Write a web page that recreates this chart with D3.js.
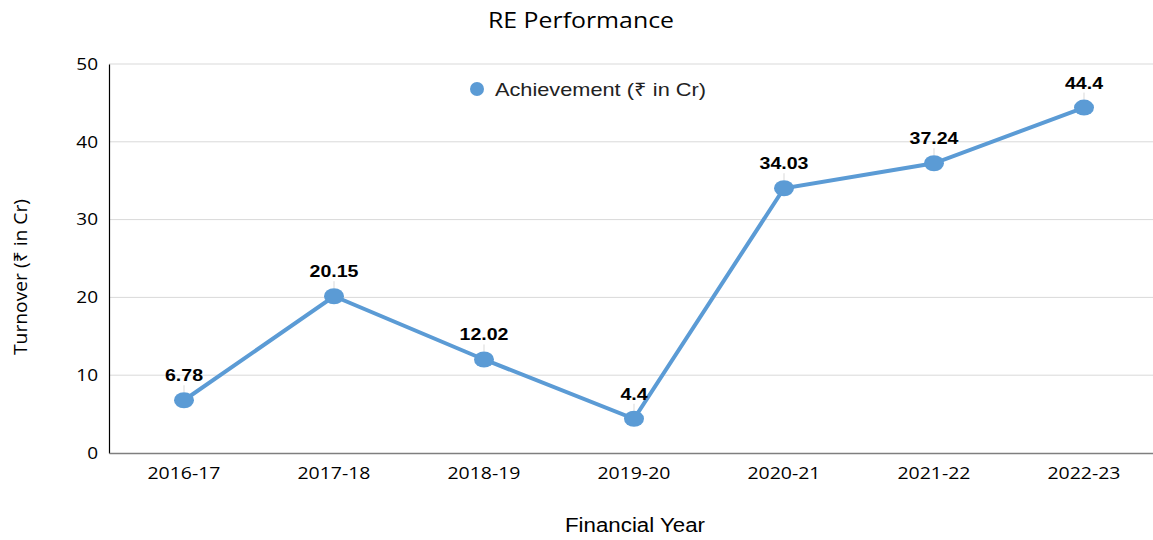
<!DOCTYPE html>
<html>
<head>
<meta charset="utf-8">
<script src="https://cdn.jsdelivr.net/npm/d3@7"></script>
<style>
  body { margin: 0; background: #fff; }
  svg { display: block; }
</style>
</head>
<body>
<div id="chart"></div>
<script>
const years = ['2016-17', '2017-18', '2018-19', '2019-20', '2020-21', '2021-22', '2022-23'];
const achievement = [6.78, 20.15, 12.02, 4.4, 34.03, 37.24, 44.4];
const yTicks = [0, 10, 20, 30, 40, 50];

const width = 1153, height = 540;
const color = '#5b9bd5';
const sideFont = '"Open Sans", "Noto Sans", sans-serif';
const armFont = '"Liberation Sans", Arial, sans-serif';

// the source picture is a bit wider than tall, so widen the text to match
function stretch(sel, k) {
    sel.each(function () {
        const w = this.getComputedTextLength();
        d3.select(this)
            .attr('textLength', w * k)
            .attr('lengthAdjust', 'spacingAndGlyphs');
    });
}

const svg = d3.select('#chart').append('svg')
    .attr('width', width)
    .attr('height', height);

const x = d3.scaleBand()
    .domain(years)
    .range([109, 1159]);

const y = d3.scaleLinear()
    .domain([0, 50])
    .range([453, 64]);

// gridlines
svg.append('g')
    .selectAll('line')
    .data(yTicks.filter(d => d > 0))
    .enter().append('line')
    .attr('x1', 109)
    .attr('x2', width)
    .attr('y1', d => y(d))
    .attr('y2', d => y(d))
    .attr('stroke', '#d9d9d9')
    .attr('stroke-width', 1);

// y axis
const yAxis = svg.append('g')
    .attr('transform', 'translate(109,0)')
    .call(d3.axisLeft(y).tickValues(yTicks).tickSize(0).tickPadding(11));
yAxis.select('.domain').attr('stroke', '#000').attr('stroke-width', 1.2);
yAxis.selectAll('text')
    .attr('font-family', sideFont)
    .attr('font-size', 16.5)
    .attr('fill', '#000')
    .call(stretch, 1.15);

// x axis
const xAxis = svg.append('g')
    .attr('transform', 'translate(0,453)')
    .call(d3.axisBottom(x).tickSize(0).tickPadding(14));
xAxis.select('.domain').attr('stroke', '#7f7f7f').attr('stroke-width', 1.5);
xAxis.selectAll('text')
    .attr('font-family', sideFont)
    .attr('font-size', 16.5)
    .attr('fill', '#000')
    .attr('textLength', 73)
    .attr('lengthAdjust', 'spacingAndGlyphs');

const cx = d => x(d) + x.bandwidth() / 2;

// line
const line = d3.line()
    .x((d, i) => cx(years[i]))
    .y(d => y(d));

svg.append('path')
    .datum(achievement)
    .attr('d', line)
    .attr('fill', 'none')
    .attr('stroke', color)
    .attr('stroke-width', 4);

// leader lines
svg.append('g')
    .selectAll('line')
    .data(achievement)
    .enter().append('line')
    .attr('x1', (d, i) => cx(years[i]))
    .attr('x2', (d, i) => cx(years[i]))
    .attr('y1', d => y(d) - 15)
    .attr('y2', d => y(d) - 8)
    .attr('stroke', '#d9d9d9')
    .attr('stroke-width', 1);

// markers
svg.append('g')
    .selectAll('ellipse')
    .data(achievement)
    .enter().append('ellipse')
    .attr('cx', (d, i) => cx(years[i]))
    .attr('cy', d => y(d))
    .attr('rx', 10)
    .attr('ry', 8)
    .attr('fill', color);

// value labels
svg.append('g')
    .selectAll('text')
    .data(achievement)
    .enter().append('text')
    .attr('x', (d, i) => cx(years[i]))
    .attr('y', d => y(d) - 19)
    .attr('text-anchor', 'middle')
    .attr('font-family', armFont)
    .attr('font-weight', 'bold')
    .attr('font-size', 17)
    .attr('fill', '#000')
    .text(d => d)
    .call(stretch, 1.15);

// title
svg.append('text')
    .attr('x', 581)
    .attr('y', 28)
    .attr('text-anchor', 'middle')
    .attr('font-family', sideFont)
    .attr('font-size', 21)
    .attr('fill', '#000')
    .attr('textLength', 186)
    .attr('lengthAdjust', 'spacingAndGlyphs')
    .text('RE Performance');

// legend
svg.append('circle')
    .attr('cx', 477)
    .attr('cy', 89)
    .attr('r', 7)
    .attr('fill', color);
svg.append('text')
    .attr('x', 495)
    .attr('y', 96)
    .attr('font-family', armFont)
    .attr('font-size', 18.5)
    .attr('fill', '#222')
    .attr('textLength', 211)
    .attr('lengthAdjust', 'spacingAndGlyphs')
    .text('Achievement (₹ in Cr)');

// axis titles
svg.append('text')
    .attr('transform', 'translate(27,277) rotate(-90)')
    .attr('text-anchor', 'middle')
    .attr('font-family', sideFont)
    .attr('font-size', 18)
    .attr('fill', '#000')
    .attr('textLength', 156)
    .attr('lengthAdjust', 'spacingAndGlyphs')
    .text('Turnover (₹ in Cr)');

svg.append('text')
    .attr('x', 635)
    .attr('y', 532)
    .attr('text-anchor', 'middle')
    .attr('font-family', armFont)
    .attr('font-size', 19.5)
    .attr('fill', '#000')
    .attr('textLength', 140)
    .attr('lengthAdjust', 'spacingAndGlyphs')
    .text('Financial Year');
</script>
</body>
</html>
